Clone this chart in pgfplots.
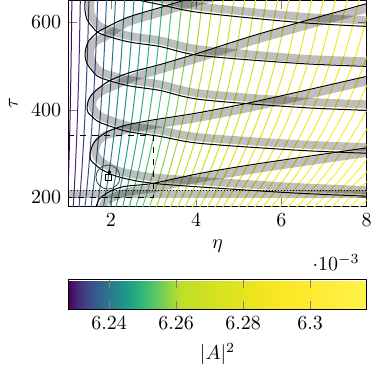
\documentclass[border=0pt]{standalone}
\usepackage{pgfplots}
\pgfplotsset{compat=1.18}
\begin{document}
\begin{tikzpicture}
\begin{axis}[
  name=main,
  width=149.2pt, height=103pt, scale only axis,
  xmin=1, xmax=8, ymin=179, ymax=650,
  xtick={2,4,6,8}, ytick={200,400,600},
  xlabel={$\eta$}, ylabel={$\tau$},
  tick align=inside,
  colormap={cm}{rgb255(0pt)=(68,1,84); rgb255(25pt)=(72,36,117); rgb255(52pt)=(65,68,135); rgb255(87pt)=(53,95,141); rgb255(122pt)=(42,120,142); rgb255(160pt)=(33,145,140); rgb255(195pt)=(34,168,132); rgb255(240pt)=(68,191,112); rgb255(285pt)=(122,209,81); rgb255(335pt)=(189,223,38); rgb255(500pt)=(225,228,28); rgb255(650pt)=(253,231,37); rgb255(891pt)=(255,243,75)},
  point meta min=6.2278, point meta max=6.3169,
  colorbar horizontal,
  colorbar style={at={(0.5,-0.356)}, anchor=north, scale only axis, width=149.2pt, height=15pt,
    xtick={6.24,6.26,6.28,6.3}, xlabel={$|A|^2$}},
  cl/.style={smooth, no marks, line width=0.5pt},
  gb/.style={smooth, no marks, draw=black, opacity=0.25, line width=4pt},
  bl/.style={smooth, no marks, draw=black, line width=0.5pt},
]
% colored contour lines
\addplot[cl, color of colormap=7.9] coordinates {(0.977,170) (1.009,260) (1.041,380) (1.067,520) (1.085,660)};
\addplot[cl, color of colormap=32.4] coordinates {(1.111,170) (1.162,260) (1.213,380) (1.255,520) (1.284,660)};
\addplot[cl, color of colormap=57.0] coordinates {(1.246,170) (1.317,260) (1.388,380) (1.446,520) (1.486,660)};
\addplot[cl, color of colormap=81.5] coordinates {(1.384,170) (1.474,260) (1.565,380) (1.640,520) (1.692,660)};
\addplot[cl, color of colormap=106.1] coordinates {(1.523,170) (1.634,260) (1.746,380) (1.837,520) (1.900,660)};
\addplot[cl, color of colormap=130.6] coordinates {(1.665,170) (1.797,260) (1.929,380) (2.037,520) (2.112,660)};
\addplot[cl, color of colormap=155.2] coordinates {(1.809,170) (1.961,260) (2.115,380) (2.241,520) (2.327,660)};
\addplot[cl, color of colormap=179.7] coordinates {(1.955,170) (2.129,260) (2.303,380) (2.447,520) (2.545,660)};
\addplot[cl, color of colormap=204.3] coordinates {(2.103,170) (2.298,260) (2.494,380) (2.655,520) (2.766,660)};
\addplot[cl, color of colormap=228.8] coordinates {(2.253,170) (2.470,260) (2.688,380) (2.867,520) (2.990,660)};
\addplot[cl, color of colormap=253.4] coordinates {(2.406,170) (2.644,260) (2.885,380) (3.082,520) (3.218,660)};
\addplot[cl, color of colormap=277.9] coordinates {(2.560,170) (2.821,260) (3.084,380) (3.300,520) (3.448,660)};
\addplot[cl, color of colormap=302.5] coordinates {(2.716,170) (3.000,260) (3.286,380) (3.521,520) (3.682,660)};
\addplot[cl, color of colormap=327.0] coordinates {(2.875,170) (3.182,260) (3.491,380) (3.745,520) (3.919,660)};
\addplot[cl, color of colormap=351.6] coordinates {(3.036,170) (3.366,260) (3.698,380) (3.972,520) (4.159,660)};
\addplot[cl, color of colormap=376.1] coordinates {(3.198,170) (3.552,260) (3.908,380) (4.201,520) (4.402,660)};
\addplot[cl, color of colormap=400.7] coordinates {(3.363,170) (3.741,260) (4.121,380) (4.434,520) (4.648,660)};
\addplot[cl, color of colormap=425.2] coordinates {(3.530,170) (3.932,260) (4.337,380) (4.670,520) (4.898,660)};
\addplot[cl, color of colormap=449.8] coordinates {(3.699,170) (4.126,260) (4.555,380) (4.908,520) (5.150,660)};
\addplot[cl, color of colormap=474.3] coordinates {(3.871,170) (4.322,260) (4.776,380) (5.150,520) (5.406,660)};
\addplot[cl, color of colormap=498.9] coordinates {(4.044,170) (4.520,260) (5.000,380) (5.394,520) (5.664,660)};
\addplot[cl, color of colormap=523.4] coordinates {(4.219,170) (4.721,260) (5.226,380) (5.642,520) (5.926,660)};
\addplot[cl, color of colormap=548.0] coordinates {(4.397,170) (4.924,260) (5.455,380) (5.892,520) (6.191,660)};
\addplot[cl, color of colormap=572.5] coordinates {(4.576,170) (5.130,260) (5.687,380) (6.145,520) (6.460,660)};
\addplot[cl, color of colormap=597.1] coordinates {(4.758,170) (5.338,260) (5.922,380) (6.402,520) (6.731,660)};
\addplot[cl, color of colormap=621.6] coordinates {(4.942,170) (5.548,260) (6.159,380) (6.661,520) (7.005,660)};
\addplot[cl, color of colormap=646.2] coordinates {(5.127,170) (5.761,260) (6.399,380) (6.923,520) (7.283,660)};
\addplot[cl, color of colormap=670.7] coordinates {(5.315,170) (5.976,260) (6.642,380) (7.189,520) (7.564,660)};
\addplot[cl, color of colormap=695.3] coordinates {(5.505,170) (6.194,260) (6.887,380) (7.457,520) (7.847,660)};
\addplot[cl, color of colormap=719.8] coordinates {(5.698,170) (6.414,260) (7.135,380) (7.728,520) (8.134,660)};
\addplot[cl, color of colormap=744.4] coordinates {(5.892,170) (6.637,260) (7.386,380) (8.002,520) (8.425,660)};
\addplot[cl, color of colormap=768.9] coordinates {(6.088,170) (6.861,260) (7.639,380) (8.279,520)};
\addplot[cl, color of colormap=793.5] coordinates {(6.287,170) (7.089,260) (7.896,380) (8.559,520)};
\addplot[cl, color of colormap=818.0] coordinates {(6.487,170) (7.318,260) (8.154,380) (8.842,520)};
\addplot[cl, color of colormap=842.6] coordinates {(6.690,170) (7.550,260) (8.416,380)};
\addplot[cl, color of colormap=867.1] coordinates {(6.895,170) (7.785,260) (8.680,380)};
\addplot[cl, color of colormap=891.7] coordinates {(7.101,170) (8.022,260)};
\addplot[cl, color of colormap=916.2] coordinates {(7.310,170) (8.261,260)};
\addplot[cl, color of colormap=940.8] coordinates {(7.521,170) (8.503,260)};
\addplot[cl, color of colormap=965.3] coordinates {(7.735,170) (8.747,260)};
\addplot[cl, color of colormap=989.9] coordinates {(7.950,170) (8.993,260)};
% gray bands
\addplot[gb] coordinates {(1,208) (8,208)};
\addplot[gb] coordinates {(1.769,158.7) (1.792,174.7) (1.863,190.7) (2.004,197.5) (2.168,204.4) (2.450,213.5) (2.991,220.3) (4.095,243.2) (5.505,266.0) (8.09,302.5)};
\addplot[gb] coordinates {(8.09,215.8) (6.445,222.6) (4.565,234.0) (2.991,245.5) (2.215,259.2) (1.863,275.2) (1.722,286.6) (1.651,295.7) (1.627,304.8) (1.651,316.3) (1.722,330.0) (1.863,341.3) (2.051,345.9) (2.380,355.0) (2.920,364.2) (4.095,382.4) (5.505,409.8) (8.09,466.9)};
\addplot[gb] coordinates {(8.09,314.0) (6.445,320.8) (4.095,336.8) (3.155,352.7) (2.380,364.2) (1.816,382.4) (1.651,393.8) (1.581,403.0) (1.557,412.1) (1.581,423.5) (1.675,434.9) (1.816,444.1) (2.098,455.5) (2.521,473.7) (3.155,492.0) (4.095,519.4) (5.505,562.8) (8.09,633.6)};
\addplot[gb] coordinates {(8.09,412.1) (6.445,419.0) (4.095,437.2) (3.155,457.8) (2.380,469.2) (1.792,485.2) (1.627,498.9) (1.533,514.8) (1.510,528.5) (1.533,544.5) (1.627,555.9) (1.769,562.8) (1.910,569.6) (2.380,599.3) (3.155,622.1) (3.860,642.7) (4.565,661.0)};
\addplot[gb] coordinates {(8.09,510.3) (6.445,517.1) (4.095,537.7) (3.155,558.2) (2.380,569.6) (1.792,587.9) (1.627,601.6) (1.533,617.6) (1.510,638.1) (1.533,656.4)};
\addplot[gb] coordinates {(8.09,603.9) (6.445,613.0) (4.095,635.8) (3.155,654.1) (2.380,670.1)};
% black curves
\addplot[bl] coordinates {(1.627,158.7) (1.651,176.9) (1.722,195.2) (1.863,206.6) (2.027,215.8) (2.333,224.9) (2.991,231.8) (4.095,254.6) (5.505,277.4) (8.09,314.0)};
\addplot[bl] coordinates {(8.09,202.1) (6.445,208.9) (4.565,220.3) (2.991,231.8) (2.215,245.5) (1.816,261.5) (1.627,275.2) (1.533,284.3) (1.510,295.7) (1.533,309.4) (1.604,325.4) (1.745,339.1) (1.980,352.7) (2.333,364.2) (2.920,375.6) (4.095,393.8) (5.505,421.2) (8.09,478.3)};
\addplot[bl] coordinates {(8.09,300.3) (6.445,307.1) (4.095,323.1) (3.155,339.1) (2.380,350.5) (1.745,371.0) (1.557,384.7) (1.463,393.8) (1.439,403.0) (1.463,418.9) (1.533,432.6) (1.675,446.4) (1.980,466.9) (2.450,485.2) (3.155,503.4) (4.095,530.8) (5.505,574.2) (8.09,645.0)};
\addplot[bl] coordinates {(8.09,398.4) (6.445,405.3) (4.095,423.5) (3.155,444.1) (2.380,455.5) (1.745,473.7) (1.557,489.7) (1.439,505.7) (1.392,524.0) (1.416,542.2) (1.486,558.2) (1.627,571.9) (1.745,581.1) (2.380,610.7) (3.155,633.6) (3.860,654.1) (4.565,672.4)};
\addplot[bl] coordinates {(8.09,498.9) (6.445,505.7) (4.095,524.0) (3.155,544.5) (2.380,555.9) (1.745,574.2) (1.557,590.2) (1.439,606.2) (1.392,626.7) (1.392,645.0) (1.439,663.3)};
\addplot[bl] coordinates {(8.09,590.2) (6.445,599.3) (4.095,622.1) (3.155,640.4) (2.380,656.4) (1.745,672.4)};
% reference lines and markers
\addplot[black, densely dotted, line width=0.5pt] coordinates {(1,215) (8,215)};
\addplot[black, dashed, line width=0.5pt] coordinates {(1,340) (3,340) (3,200) (1,200)};
\addplot[only marks, mark=o, mark size=6pt, black!75, mark options={line width=0.4pt}] coordinates {(1.93,246)};
\addplot[only marks, mark=square, mark size=1.5pt, black, mark options={line width=0.4pt}] coordinates {(1.93,246)};
\addplot[only marks, mark=*, mark size=0.8pt, black] coordinates {(1.96,257)};
\end{axis}
\node[anchor=east] at ([yshift=-28pt]main.south east) {$\cdot 10^{-3}$};
\path (main.south west) ++(-34.15pt,-83pt) rectangle ++(189.5pt,186pt);
\end{tikzpicture}
\end{document}
